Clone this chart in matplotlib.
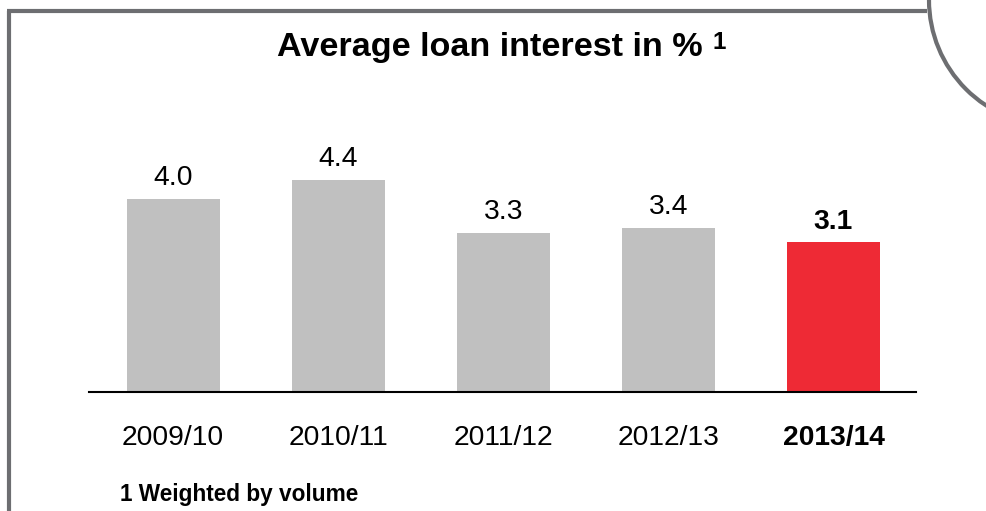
import matplotlib
matplotlib.use("Agg")
import matplotlib.pyplot as plt
from matplotlib.patches import Arc

plt.rcParams['font.family'] = ['Liberation Sans', 'DejaVu Sans']

categories = ["2009/10", "2010/11", "2011/12", "2012/13", "2013/14"]
values = [4.0, 4.4, 3.3, 3.4, 3.1]
highlight = [False, False, False, False, True]
title = "Average loan interest in %"
footnote = "1 Weighted by volume"

GRAY = "#c0c0c0"
RED = "#ee2a35"
BORDER = "#6d6e71"

W, H = 986, 511
fig = plt.figure(figsize=(W / 100, H / 100), dpi=100)

ax = fig.add_axes([89 / W, (H - 392) / H, (916 - 89) / W, 292 / H])
x = list(range(len(categories)))
colors = [RED if h else GRAY for h in highlight]
bars = ax.bar(x, values, width=0.565, color=colors, zorder=2)
ax.set_xlim(-0.51, 4.50)
ax.set_ylim(0, 6.05)
for s in ["top", "left", "right"]:
    ax.spines[s].set_visible(False)
ax.spines["bottom"].set_color("black")
ax.spines["bottom"].set_linewidth(1.5)
ax.set_yticks([])
ax.set_xticks(x)
ax.set_xticklabels(categories, fontsize=20.3)
ax.tick_params(axis="x", length=0, pad=24)
for lab, h in zip(ax.get_xticklabels(), highlight):
    if h:
        lab.set_fontweight("bold")
for b, v, h in zip(bars, values, highlight):
    ax.annotate(f"{v:.1f}", (b.get_x() + b.get_width() / 2, v),
                xytext=(0, 5.5), textcoords="offset points",
                ha="center", va="bottom", fontsize=20.3,
                fontweight="bold" if h else "normal")

# overlay for frame, title, footnote (pixel coordinates)
ov = fig.add_axes([0, 0, 1, 1], zorder=-1)
ov.set_xlim(0, W)
ov.set_ylim(H, 0)
ov.axis("off")
ov.plot([9, 9], [11, H + 5], color=BORDER, lw=3, solid_capstyle="butt")
ov.plot([7, 927], [11, 11], color=BORDER, lw=3, solid_capstyle="butt")
ov.add_patch(Arc((1055, 0), 252, 252, theta1=90, theta2=270, color=BORDER, lw=3))

ov.text(489.5, 56, title, ha="center", va="baseline", fontsize=24.6, fontweight="bold")
ov.text(713, 49, "1", ha="left", va="baseline", fontsize=17.5, fontweight="bold")
ov.text(120, 501, footnote, ha="left", va="baseline", fontsize=16.3, fontweight="bold")

fig.savefig("out.png", dpi=100)
